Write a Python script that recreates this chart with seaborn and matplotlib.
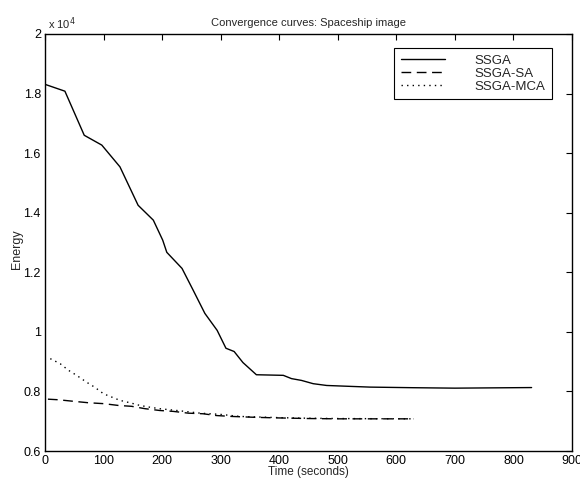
"""
Convergence curves for the Spaceship image (SSGA variants).
"""

import numpy as np
import pandas as pd
import matplotlib
matplotlib.use('Agg')
import matplotlib.pyplot as plt
from matplotlib.ticker import FuncFormatter, MultipleLocator
import seaborn as sns

# SSGA (solid)
ssga_time = [0, 34, 67, 97, 128, 159, 185, 201, 208, 234, 253, 273, 294, 309,
             323, 338, 361, 407, 421, 438, 458, 481, 521, 555, 629, 700, 831]
ssga_energy = [18310, 18080, 16600, 16270, 15540, 14250, 13750, 13080, 12670,
               12130, 11400, 10620, 10050, 9450, 9340, 8970, 8560, 8540, 8430,
               8370, 8260, 8200, 8170, 8145, 8125, 8110, 8130]

# SSGA-SA (dashed)
sa_time = [5, 23, 48, 74, 100, 125, 148, 171, 196, 219, 245, 270, 293, 319,
           360, 400, 450, 500, 560, 630]
sa_energy = [7740, 7720, 7670, 7620, 7590, 7530, 7500, 7420, 7360, 7330, 7270,
             7250, 7190, 7160, 7130, 7110, 7090, 7080, 7080, 7080]

# SSGA-MCA (dotted)
mca_time = [9, 26, 40, 54, 71, 85, 100, 114, 128, 145, 162, 179, 196, 230,
            265, 299, 333, 400, 450, 500, 560, 630]
mca_energy = [9100, 8930, 8710, 8540, 8310, 8140, 7920, 7810, 7700, 7620, 7530,
              7470, 7420, 7350, 7270, 7230, 7160, 7120, 7100, 7090, 7085, 7080]

sns.set_style('white')
plt.rcParams['font.family'] = ['Liberation Sans', 'DejaVu Sans']

fig = plt.figure(figsize=(5.8, 4.79), dpi=100)
ax = fig.add_axes([45 / 580, 28 / 479, 527 / 580, 417 / 479])

series = [
    ('SSGA', ssga_time, ssga_energy, '-'),
    ('SSGA-SA', sa_time, sa_energy, (0, (7, 4))),
    ('SSGA-MCA', mca_time, mca_energy, (0, (1, 3))),
]
for name, t, e, ls in series:
    df = pd.DataFrame({'time': t, 'energy': e})
    sns.lineplot(data=df, x='time', y='energy', ax=ax, color='black',
                 linestyle=ls, linewidth=1.0, label=name, estimator=None)

ax.set_xlim(0, 900)
ax.set_ylim(6000, 20000)
ax.xaxis.set_major_locator(MultipleLocator(100))
ax.yaxis.set_major_locator(MultipleLocator(2000))
ax.yaxis.set_major_formatter(FuncFormatter(lambda v, p: f'{v / 1e4:g}'))
ax.tick_params(direction='in', length=4, width=0.8, top=True, right=True,
               labelsize=9, colors='black', pad=3)
for s in ax.spines.values():
    s.set_color('black')
    s.set_linewidth(1.0)

ax.text(0.005, 1.004, r'x 10$^4$', transform=ax.transAxes, fontsize=8,
        ha='left', va='bottom')
ax.set_title('Convergence curves: Spaceship image', fontsize=8, pad=6)
ax.set_xlabel('Time (seconds)', fontsize=8.5)
ax.xaxis.set_label_coords(0.5, -0.036)
ax.set_ylabel('Energy', fontsize=9)
ax.yaxis.set_label_coords(-0.042, 0.485)

leg = ax.legend(loc='upper right', bbox_to_anchor=(0.962, 0.966),
                borderaxespad=0, fancybox=False, framealpha=1, fontsize=9.5,
                handlelength=3.4, handletextpad=2.2, labelspacing=0.05,
                borderpad=0.5)
leg.get_frame().set_edgecolor('black')
leg.get_frame().set_linewidth(0.8)

fig.savefig('out.png', dpi=100)
plt.close(fig)
